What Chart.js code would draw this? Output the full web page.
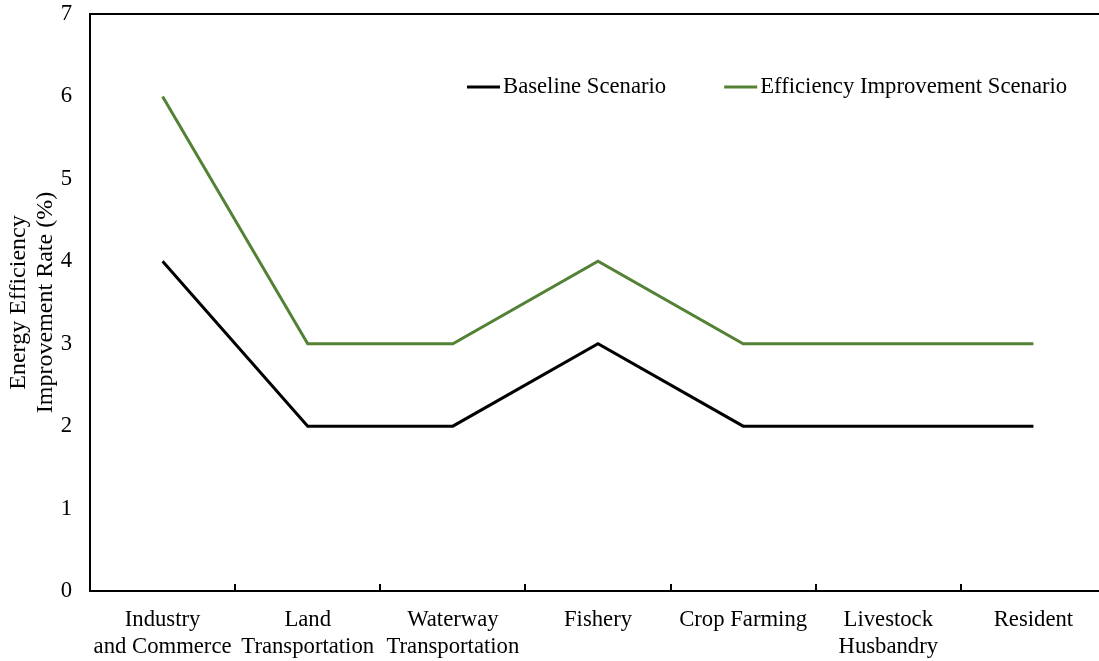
<!DOCTYPE html>
<html>
<head>
<meta charset="utf-8">
<script src="https://cdn.jsdelivr.net/npm/chart.js@4/dist/chart.umd.min.js"></script>
<style>
  html, body { margin: 0; padding: 0; background: #ffffff; overflow: hidden; }
  #wrap { position: relative; width: 1110px; height: 661px; }
</style>
</head>
<body>
<div id="wrap"><canvas id="chart" width="1110" height="661"></canvas></div>
<script>
// Sectors along the x axis (multi-line labels)
const categories = [
  ["Industry", "and Commerce"],
  ["Land", "Transportation"],
  ["Waterway", "Transportation"],
  ["Fishery"],
  ["Crop Farming"],
  ["Livestock", "Husbandry"],
  ["Resident"]
];
// Energy efficiency improvement rate (%) per sector
const baselineScenario = [4, 2, 2, 3, 2, 2, 2];
const efficiencyScenario = [6, 3, 3, 4, 3, 3, 3];
const seriesNames = ["Baseline Scenario", "Efficiency Improvement Scenario"];
const yTitle = ["Energy Efficiency", "Improvement Rate (%)"];

const FONT = "'Liberation Serif', 'Times New Roman', serif";
const FONT_SIZE = 22.7;

// Frame line along the top of the plot, inward tick marks between categories, and the legend
const framePlugin = {
  id: 'frame',
  afterDatasetsDraw(chart) {
    const { ctx, chartArea } = chart;
    const x = chart.scales.x;
    ctx.save();
    ctx.strokeStyle = '#000000';
    ctx.lineWidth = 2;
    ctx.beginPath();
    ctx.moveTo(chartArea.left - 1, chartArea.top);
    ctx.lineTo(chartArea.right, chartArea.top);
    ctx.stroke();

    // tick marks at category boundaries, pointing into the plot
    const n = chart.data.labels.length;
    const step = (x.getPixelForValue(n - 1) - x.getPixelForValue(0)) / (n - 1);
    ctx.lineWidth = 2;
    ctx.beginPath();
    for (let i = 0; i < n - 1; i++) {
      const px = Math.round(x.getPixelForValue(i) + step / 2);
      ctx.moveTo(px, chartArea.bottom);
      ctx.lineTo(px, chartArea.bottom - 7);
    }
    ctx.stroke();

    // legend
    ctx.font = FONT_SIZE + 'px ' + FONT;
    ctx.textBaseline = 'middle';
    ctx.textAlign = 'left';
    let lx = 467;
    const ly = chartArea.top + 73;
    chart.data.datasets.forEach((ds) => {
      ctx.strokeStyle = ds.borderColor;
      ctx.lineWidth = 3;
      ctx.beginPath();
      ctx.moveTo(lx, ly);
      ctx.lineTo(lx + 33, ly);
      ctx.stroke();
      ctx.fillStyle = '#000000';
      ctx.fillText(ds.label, lx + 36, ly);
      lx += 36 + ctx.measureText(ds.label).width + 58;
    });
    ctx.restore();
  }
};

new Chart(document.getElementById('chart'), {
  type: 'line',
  data: {
    labels: categories,
    datasets: [
      {
        label: seriesNames[0],
        data: baselineScenario,
        borderColor: '#000000',
        backgroundColor: '#000000',
        borderWidth: 3,
        pointRadius: 0,
        tension: 0
      },
      {
        label: seriesNames[1],
        data: efficiencyScenario,
        borderColor: '#548235',
        backgroundColor: '#548235',
        borderWidth: 3,
        pointRadius: 0,
        tension: 0
      }
    ]
  },
  options: {
    responsive: false,
    animation: false,
    devicePixelRatio: 1,
    layout: { padding: { top: 14, right: 4, bottom: 0, left: 0 } },
    plugins: {
      legend: { display: false },
      tooltip: { enabled: false }
    },
    scales: {
      x: {
        type: 'category',
        offset: true,
        grid: { display: false },
        border: { display: true, color: '#000000', width: 2 },
        ticks: {
          color: '#000000',
          font: { family: FONT, size: FONT_SIZE, lineHeight: 1.19 },
          padding: 8,
          maxRotation: 0,
          autoSkip: false
        },
        afterFit(scale) { scale.height = 70; }
      },
      y: {
        min: 0,
        max: 7,
        grid: { display: false },
        border: { display: true, color: '#000000', width: 2 },
        ticks: {
          stepSize: 1,
          color: '#000000',
          // compact line box keeps the top label from pushing the plot down
          font: { family: FONT, size: FONT_SIZE, lineHeight: 0.35 },
          padding: 10
        },
        title: {
          display: true,
          text: yTitle,
          color: '#000000',
          font: { family: FONT, size: 24, lineHeight: 1.125 },
          padding: { top: 5, bottom: 0 }
        },
        afterFit(scale) { scale.width = 90; }
      }
    }
  },
  plugins: [framePlugin]
});
</script>
</body>
</html>
